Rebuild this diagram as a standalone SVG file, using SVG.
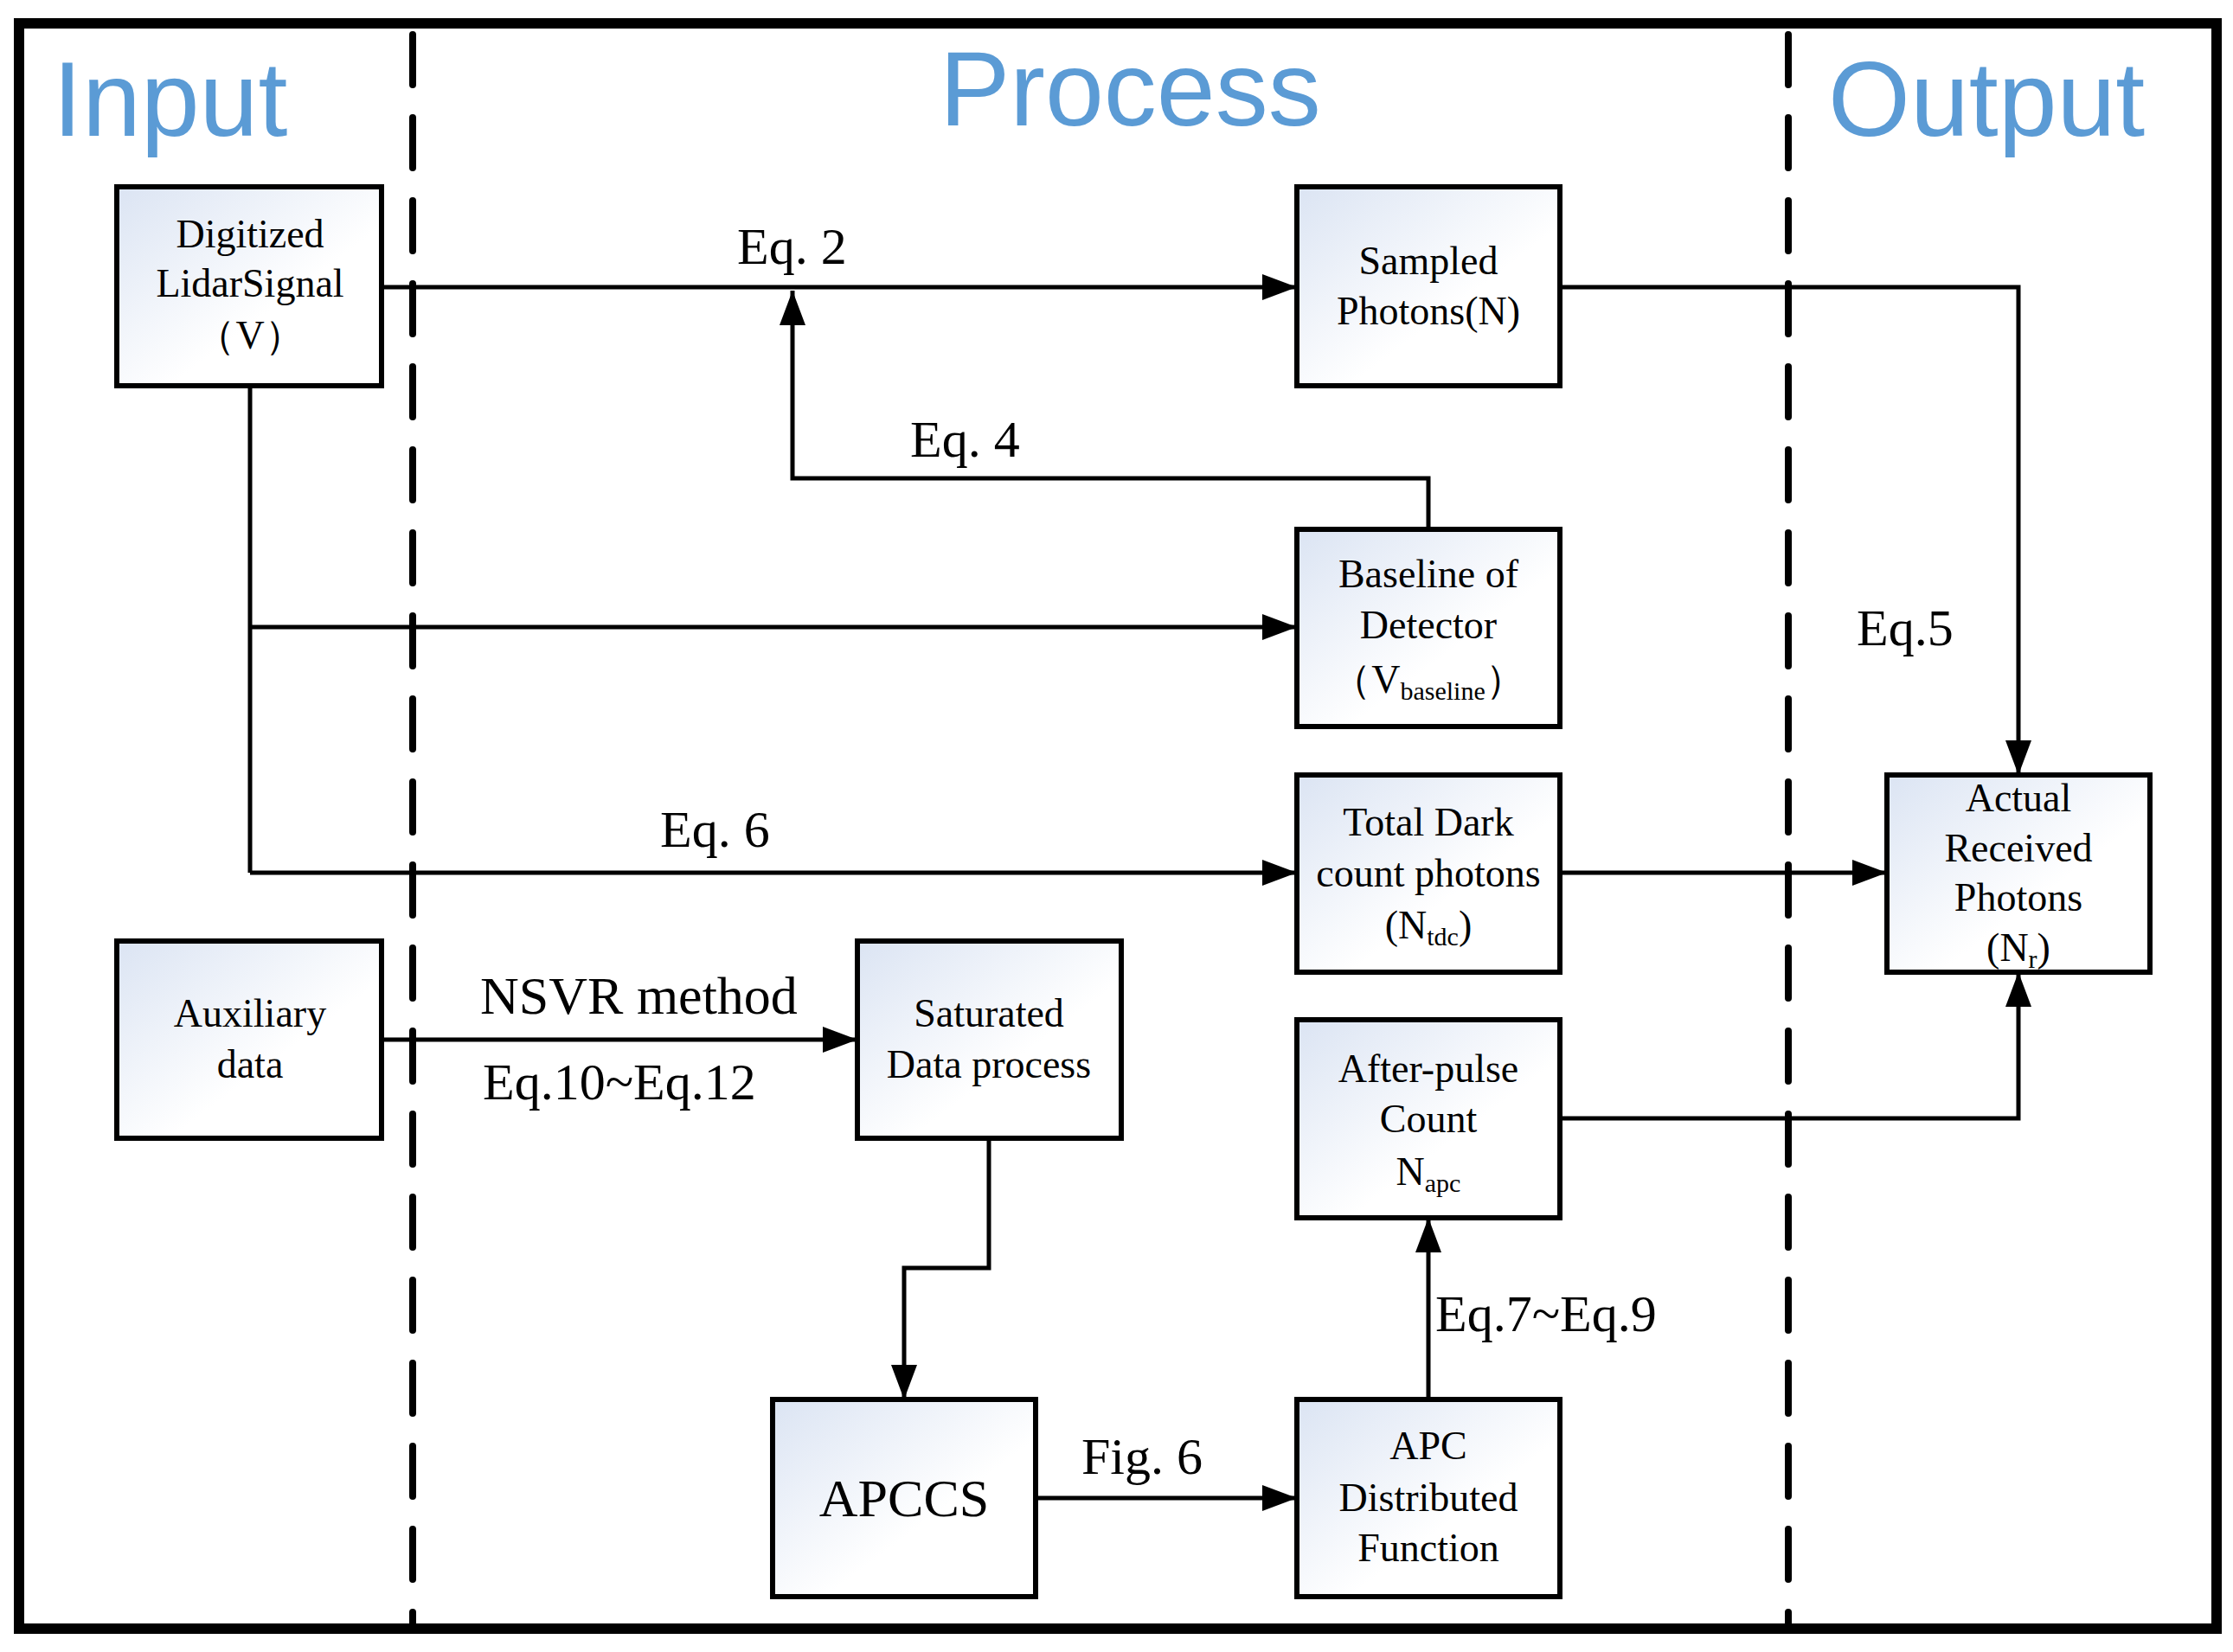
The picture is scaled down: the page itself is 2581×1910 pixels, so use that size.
<svg xmlns="http://www.w3.org/2000/svg" width="2581" height="1910" viewBox="0 0 2581 1910">
<defs>
<linearGradient id="g" x1="0" y1="0" x2="1" y2="1"><stop offset="0" stop-color="#dbe4f3"/><stop offset="0.6" stop-color="#ffffff"/></linearGradient>
<marker id="a" markerWidth="8" markerHeight="6" refX="8" refY="3" orient="auto" markerUnits="strokeWidth"><path d="M0,0 L8,3 L0,6 Z" fill="#000"/></marker>
<style>
.b{fill:url(#g);stroke:#000;stroke-width:6}
.t{font-family:"Liberation Serif","Times New Roman",serif;font-size:46px;text-anchor:middle;fill:#000}
.l{font-family:"Liberation Serif","Times New Roman",serif;font-size:60px;fill:#000}
.h{font-family:"Liberation Sans",Arial,sans-serif;font-size:122px;fill:#5b9bd5}
.c{fill:none;stroke:#000;stroke-width:5;marker-end:url(#a)}
.n{fill:none;stroke:#000;stroke-width:5}
.d{stroke:#000;stroke-width:8;stroke-dasharray:58 38;stroke-linecap:round}
</style>
</defs>
<rect x="0" y="0" width="2581" height="1910" fill="#fff"/>
<rect x="22" y="27" width="2540" height="1856" fill="none" stroke="#000" stroke-width="12"/>
<line class="d" x1="477" y1="40" x2="477" y2="1880"/>
<line class="d" x1="2067" y1="40" x2="2067" y2="1880"/>
<text class="h" x="61" y="157">Input</text>
<text class="h" x="1086" y="145">Process</text>
<text class="h" x="2113" y="157">Output</text>
<g id="connectors">
<path class="c" d="M441,332 H1499"/>
<path class="c" d="M1651,612 V553 H916 V336"/>
<path class="n" d="M289,446 V1009"/>
<path class="c" d="M289,725 H1499"/>
<path class="c" d="M289,1009 H1499"/>
<path class="c" d="M1803,332 H2333 V896"/>
<path class="c" d="M1803,1009 H2181"/>
<path class="c" d="M1803,1293 H2333 V1124"/>
<path class="c" d="M441,1202 H991"/>
<path class="c" d="M1143,1316 V1466 H1045 V1618"/>
<path class="c" d="M1197,1732 H1499"/>
<path class="c" d="M1651,1618 V1408"/>
<text class="l" x="852" y="305">Eq. 2</text>
<text class="l" x="1052" y="528">Eq. 4</text>
<text class="l" x="763" y="979">Eq. 6</text>
<text class="l" x="2146" y="746">Eq.5</text>
<text class="l" x="555" y="1172" style="font-size:62px">NSVR method</text>
<text class="l" x="558" y="1271">Eq.10~Eq.12</text>
<text class="l" x="1250" y="1704">Fig. 6</text>
<text class="l" x="1659" y="1539">Eq.7~Eq.9</text>
</g>
<g id="digitized"><rect class="b" x="135" y="216" width="306" height="230"/><text class="t" x="289" y="286">Digitized</text><text class="t" x="289" y="343">LidarSignal</text><text class="t" x="289" y="403">（V）</text></g>
<g id="sampled"><rect class="b" x="1499" y="216" width="304" height="230"/><text class="t" x="1651" y="317">Sampled</text><text class="t" x="1651" y="375">Photons(N)</text></g>
<g id="baseline"><rect class="b" x="1499" y="612" width="304" height="228"/><text class="t" x="1651" y="679">Baseline of</text><text class="t" x="1651" y="738">Detector</text><text class="t" x="1651" y="801">（V<tspan font-size="30" dy="8">baseline</tspan><tspan dy="-8">）</tspan></text></g>
<g id="totaldark"><rect class="b" x="1499" y="896" width="304" height="228"/><text class="t" x="1651" y="966">Total Dark</text><text class="t" x="1651" y="1025">count photons</text><text class="t" x="1651" y="1085">(N<tspan font-size="30" dy="8">tdc</tspan><tspan dy="-8">)</tspan></text></g>
<g id="actual"><rect class="b" x="2181" y="896" width="304" height="228"/><text class="t" x="2333" y="938">Actual</text><text class="t" x="2333" y="996">Received</text><text class="t" x="2333" y="1053">Photons</text><text class="t" x="2333" y="1111">(N<tspan font-size="30" dy="8">r</tspan><tspan dy="-8">)</tspan></text></g>
<g id="auxiliary"><rect class="b" x="135" y="1088" width="306" height="228"/><text class="t" x="289" y="1187">Auxiliary</text><text class="t" x="289" y="1246">data</text></g>
<g id="saturated"><rect class="b" x="991" y="1088" width="305" height="228"/><text class="t" x="1143" y="1187">Saturated</text><text class="t" x="1143" y="1246">Data process</text></g>
<g id="afterpulse"><rect class="b" x="1499" y="1179" width="304" height="229"/><text class="t" x="1651" y="1251">After-pulse</text><text class="t" x="1651" y="1309">Count</text><text class="t" x="1651" y="1370">N<tspan font-size="30" dy="8">apc</tspan></text></g>
<g id="apccs"><rect class="b" x="893" y="1618" width="304" height="228"/><text class="t" x="1045" y="1753" style="font-size:62px">APCCS</text></g>
<g id="apc"><rect class="b" x="1499" y="1618" width="304" height="228"/><text class="t" x="1651" y="1687">APC</text><text class="t" x="1651" y="1747">Distributed</text><text class="t" x="1651" y="1805">Function</text></g>
</svg>
